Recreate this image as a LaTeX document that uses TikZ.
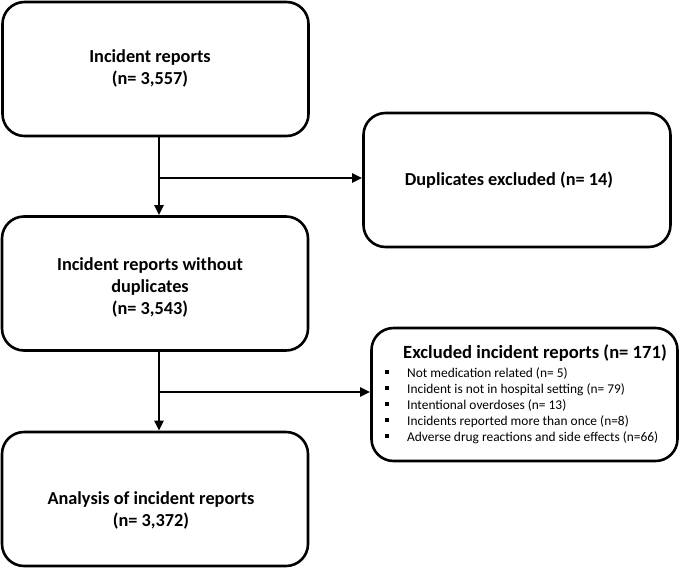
\documentclass[tikz,border=0pt]{standalone}
\usepackage{fontspec}
\setmainfont{Carlito}
\usetikzlibrary{arrows.meta, positioning}

\tikzset{
  flowbox/.style={draw, line width=2.6pt, rounded corners=22pt, inner sep=0pt,
                  minimum width=306pt, minimum height=134pt},
  boxtext/.style={align=center, inner sep=0pt, font=\fontsize{18.3}{22}\selectfont\bfseries},
  itemtext/.style={anchor=base west, inner sep=0pt, font=\fontsize{13.4}{16}\selectfont},
  flowline/.style={line width=2.4pt, -{Triangle[length=10pt, width=9pt]}},
}

\begin{document}
\begin{tikzpicture}[x=1pt, y=-1pt]
\useasboundingbox (0,0) rectangle (680,568);
% boxes
\node[flowbox] (reports) at (155.5, 69) {};
\node[flowbox] (nodup) at (155, 283.5) {};
\node[flowbox] (analysis) at (155, 499) {};
\node[flowbox, minimum width=307pt] (dups) at (517, 180) {};
\node[flowbox, minimum width=306pt, minimum height=133pt] (excl) at (524.5, 394.5) {};
% texts
\node[boxtext] (reportstxt) at (150, 68) {Incident reports\\(n= 3,557)};
\node[boxtext] (noduptxt) at (150, 287) {Incident reports without\\duplicates\\(n= 3,543)};
\node[boxtext] (analysistxt) at (151, 510) {Analysis of incident reports\\(n= 3,372)};
\node[boxtext] (dupstxt) at (509, 180) {Duplicates excluded (n= 14)};
\node[boxtext, font=\fontsize{18.6}{22}\selectfont\bfseries] (excltitle) at (535, 353) {Excluded incident reports (n= 171)};
\foreach \txt [count=\i] in {{Not medication related (n= 5)},
    {Incident is not in hospital setting (n= 79)},
    {Intentional overdoses (n= 13)},
    {Incidents reported more than once (n=8)},
    {Adverse drug reactions and side effects (n=66)}} {
  \node[itemtext] (item\i) at (407, 361+16*\i) {\txt};
  \fill ([shift={(-22.5,-7.5)}]item\i.base west) rectangle ++(4.5,4.5);
}
% connectors
\coordinate (split1) at (159, 178);
\coordinate (split2) at (159, 392);
\draw[flowline] (reports.south -| split1) -- (nodup.north -| split1);
\draw[flowline] (split1) -- (split1 -| dups.west);
\draw[flowline] (nodup.south -| split2) -- (analysis.north -| split2);
\draw[flowline] (split2) -- (split2 -| excl.west);
\end{tikzpicture}
\end{document}
